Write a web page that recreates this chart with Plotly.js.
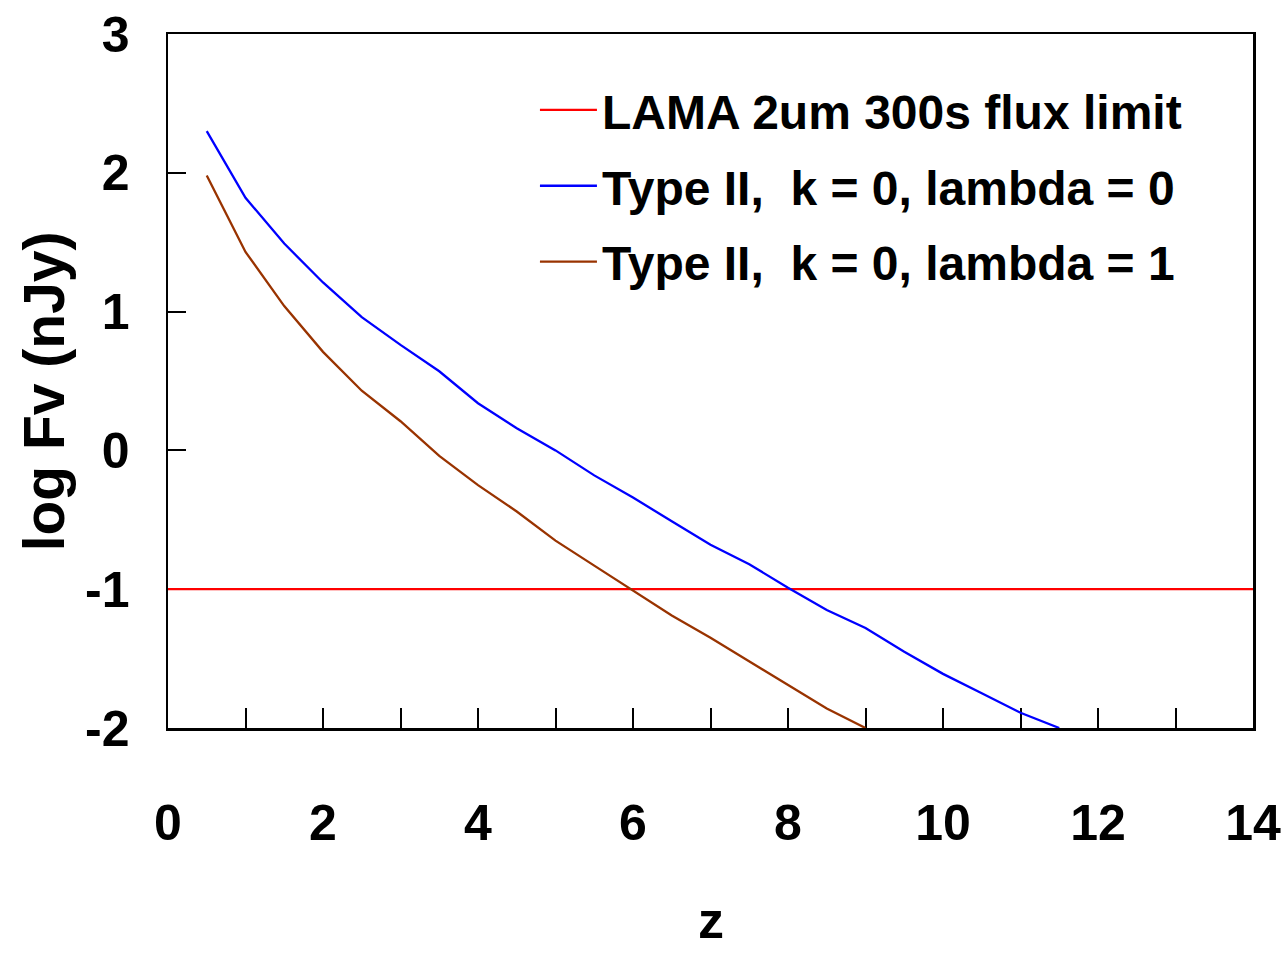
<!DOCTYPE html>
<html>
<head>
<meta charset="utf-8">
<script src="https://cdn.plot.ly/plotly-3.0.1.min.js"></script>
<style>html,body{margin:0;padding:0;background:#fff;}#chart{width:1287px;height:955px;}</style>
</head>
<body>
<div id="chart"></div>
<script>
// Data
const limitZ = [0,0.5,1,1.5,2,2.5,3,3.5,4,4.5,5,5.5,6,6.5,7,7.5,8,8.5,9,9.5,10,10.5,11,11.5,12,12.5,13,13.5,14];
const limitLogF = [-1,-1,-1,-1,-1,-1,-1,-1,-1,-1,-1,-1,-1,-1,-1,-1,-1,-1,-1,-1,-1,-1,-1,-1,-1,-1,-1,-1,-1];

const zLambda0 = [0.5,1,1.5,2,2.5,3,3.5,4,4.5,5,5.5,6,6.5,7,7.5,8,8.5,9,9.5,10,10.5,11,11.5];
const logFLambda0 = [2.30,1.82,1.49,1.21,0.96,0.76,0.57,0.34,0.16,0.00,-0.18,-0.34,-0.51,-0.68,-0.82,-0.99,-1.15,-1.28,-1.45,-1.61,-1.75,-1.89,-2.00];

const zLambda1 = [0.5,1,1.5,2,2.5,3,3.5,4,4.5,5,5.5,6,6.5,7,7.5,8,8.5,9];
const logFLambda1 = [1.98,1.43,1.04,0.71,0.43,0.21,-0.04,-0.25,-0.44,-0.65,-0.83,-1.01,-1.19,-1.35,-1.52,-1.69,-1.86,-2.00];

const seriesNames = ["LAMA 2um 300s flux limit", "Type II,  k = 0, lambda = 0", "Type II,  k = 0, lambda = 1"];
const yTickVals = [-2,-1,0,1,2,3];
const yTickText = ["-2","-1","0","1","2","3"];
const xTickVals = [0,2,4,6,8,10,12,14];
const xTickText = ["0","2","4","6","8","10","12","14"];
const xTitle = 'z';
const yTitle = 'log Fv (nJy)';

const FONT = '"Liberation Sans", Arial, sans-serif';

const traces = [
  {x: limitZ, y: limitLogF, name: seriesNames[0], legendgroup: 'a', mode: 'lines', line: {color: '#ff0000', width: 2.3}},
  {x: zLambda0, y: logFLambda0, name: seriesNames[1], legendgroup: 'b', mode: 'lines', line: {color: '#0000ff', width: 2.3}},
  {x: zLambda1, y: logFLambda1, name: seriesNames[2], legendgroup: 'c', mode: 'lines', line: {color: '#993300', width: 2.3}}
];

const layout = {
  width: 1287, height: 955,
  margin: {l: 168, r: 34, t: 34, b: 227, pad: 0},
  paper_bgcolor: '#ffffff', plot_bgcolor: '#ffffff',
  font: {family: FONT, size: 50, color: '#000', weight: 'bold'},
  showlegend: true,
  legend: {
    x: 0.3382, y: 0.945, xanchor: 'left', yanchor: 'top',
    bgcolor: 'rgba(0,0,0,0)', borderwidth: 0,
    font: {family: FONT, size: 48, color: '#000', weight: 'bold'},
    tracegroupgap: 10.5, itemwidth: 57
  },
  xaxis: {
    range: [0, 14], autorange: false,
    tickmode: 'array', tickvals: xTickVals, ticktext: xTickText,
    ticks: 'inside', ticklen: 20, tickwidth: 2, tickcolor: '#000',
    minor: {dtick: 1, tick0: 0, ticks: 'inside', ticklen: 20, tickwidth: 2, tickcolor: '#000'},
    showline: true, linecolor: '#000', linewidth: 2.5, mirror: true,
    showgrid: false, zeroline: false, layer: 'below traces',
    tickfont: {family: FONT, size: 50, color: '#000', weight: 'bold'},
    ticklabelstandoff: 49,
    automargin: false
  },
  yaxis: {
    range: [-2, 3], autorange: false,
    tickmode: 'array', tickvals: yTickVals, ticktext: yTickText,
    ticks: 'inside', ticklen: 18, tickwidth: 2, tickcolor: '#000',
    showline: true, linecolor: '#000', linewidth: 2.5, mirror: true,
    showgrid: false, zeroline: false, layer: 'below traces',
    tickfont: {family: FONT, size: 50, color: '#000', weight: 'bold'},
    ticklabelstandoff: 26,
    automargin: false
  },
  annotations: [
    {text: xTitle, xref: 'paper', yref: 'paper', x: 0.5, y: -0.2767, xanchor: 'center', yanchor: 'middle',
     showarrow: false, font: {family: FONT, size: 52, color: '#000', weight: 'bold'}},
    {text: yTitle, xref: 'paper', yref: 'paper', x: -0.114, y: 0.4856, xanchor: 'center', yanchor: 'middle',
     textangle: -90, showarrow: false, font: {family: FONT, size: 57, color: '#000', weight: 'bold'}}
  ]
};

Plotly.newPlot('chart', traces, layout, {displayModeBar: false, staticPlot: true});
</script>
</body>
</html>
